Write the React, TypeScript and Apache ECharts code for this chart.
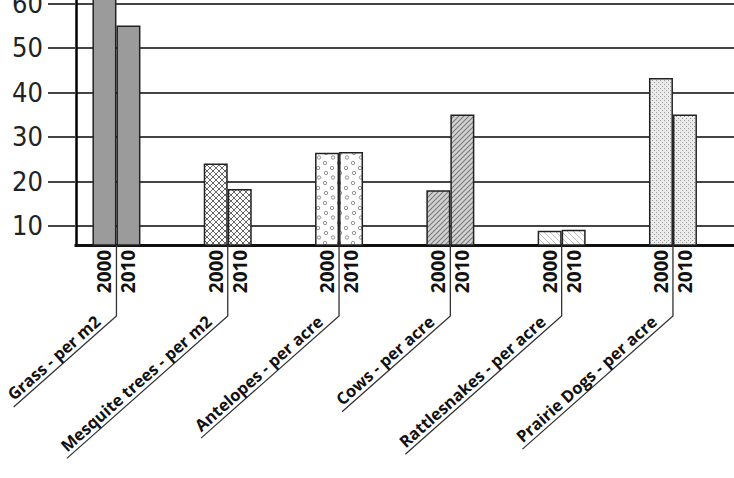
import React, { useEffect, useRef } from "react";
import * as echarts from "echarts";

const categories = [
  "Grass - per m2",
  "Mesquite trees - per m2",
  "Antelopes - per acre",
  "Cows - per acre",
  "Rattlesnakes - per acre",
  "Prairie Dogs - per acre",
];
const years = ["2000", "2010"];
const values2000 = [65, 24, 26.4, 18, 8.9, 43.2];
const values2010 = [55, 18.3, 26.6, 35, 9.1, 35];
const yTicks = [10, 20, 30, 40, 50, 60];
const Y_MIN = 5.7;
const Y_MAX = 70;

const CAT_FONT = "bold 16.5px 'Open Sans'";

function makeCanvas(w: number, h: number, draw: (ctx: CanvasRenderingContext2D) => void) {
  const c = document.createElement("canvas");
  c.width = w;
  c.height = h;
  const ctx = c.getContext("2d")!;
  draw(ctx);
  return c;
}

function buildFills(): any[] {
  const mesh = makeCanvas(6, 6, (ctx) => {
    ctx.fillStyle = "#ffffff";
    ctx.fillRect(0, 0, 6, 6);
    ctx.strokeStyle = "#555";
    ctx.lineWidth = 0.9;
    ctx.beginPath();
    ctx.moveTo(0, 0); ctx.lineTo(6, 6);
    ctx.moveTo(6, 0); ctx.lineTo(0, 6);
    ctx.stroke();
  });
  const circles = makeCanvas(14, 20, (ctx) => {
    ctx.fillStyle = "#ffffff";
    ctx.fillRect(0, 0, 14, 20);
    ctx.strokeStyle = "#888";
    ctx.lineWidth = 0.9;
    [[3, 3], [10, 8], [4, 13], [11, 17.5]].forEach(([x, y]) => {
      ctx.beginPath();
      ctx.arc(x, y, 1.7, 0, Math.PI * 2);
      ctx.stroke();
    });
  });
  const slash = makeCanvas(5, 5, (ctx) => {
    ctx.fillStyle = "#d2d2d2";
    ctx.fillRect(0, 0, 5, 5);
    ctx.strokeStyle = "#7a7a7a";
    ctx.lineWidth = 1.1;
    ctx.beginPath();
    ctx.moveTo(-1, 6); ctx.lineTo(6, -1);
    ctx.moveTo(-1, 1); ctx.lineTo(1, -1);
    ctx.moveTo(4, 6); ctx.lineTo(6, 4);
    ctx.stroke();
  });
  const back = makeCanvas(6, 6, (ctx) => {
    ctx.fillStyle = "#ffffff";
    ctx.fillRect(0, 0, 6, 6);
    ctx.strokeStyle = "#bdbdbd";
    ctx.lineWidth = 1;
    ctx.beginPath();
    ctx.moveTo(-1, -1); ctx.lineTo(7, 7);
    ctx.moveTo(5, -1); ctx.lineTo(7, 1);
    ctx.moveTo(-1, 5); ctx.lineTo(1, 7);
    ctx.stroke();
  });
  const dots = makeCanvas(4, 4, (ctx) => {
    ctx.fillStyle = "#ebebeb";
    ctx.fillRect(0, 0, 4, 4);
    ctx.fillStyle = "#9a9a9a";
    ctx.fillRect(0, 0, 1, 1);
    ctx.fillRect(2, 2, 1, 1);
  });
  return [
    "#9b9b9b",
    { image: mesh, repeat: "repeat" },
    { image: circles, repeat: "repeat" },
    { image: slash, repeat: "repeat" },
    { image: back, repeat: "repeat" },
    { image: dots, repeat: "repeat" },
  ];
}

let measureCtx: CanvasRenderingContext2D | null = null;
function measure(text: string) {
  if (!measureCtx) measureCtx = document.createElement("canvas").getContext("2d");
  measureCtx!.font = CAT_FONT;
  return measureCtx!.measureText(text).width;
}

export default function App() {
  const ref = useRef<HTMLDivElement>(null);
  useEffect(() => {
    const chart = echarts.init(ref.current!, null, { renderer: "svg" });
    const fills = buildFills();
    const yearLabel = (txt: string) => ({
      show: true,
      position: "bottom",
      distance: 4,
      rotate: 90,
      align: "right",
      verticalAlign: "middle",
      formatter: txt,
      fontFamily: "'Open Sans', sans-serif",
      fontWeight: "bold",
      fontSize: 19,
      color: "#111",
    });
    const barSeries = [values2000, values2010].map((vals, k) => ({
      type: "bar",
      name: years[k],
      barWidth: 24,
      barGap: "0%",
      z: 3,
      data: vals.map((v, i) => ({ value: v, itemStyle: { color: fills[i] } })),
      itemStyle: { borderColor: "#222", borderWidth: 1.5 },
      label: yearLabel(years[k]),
    }));
    const th = (41.5 * Math.PI) / 180;
    const cs = Math.cos(th);
    const sn = Math.sin(th);
    const leader = {
      type: "custom",
      clip: false,
      z: 4,
      silent: true,
      data: categories.map((_, i) => [i, Y_MIN]),
      encode: { x: 0, y: 1 },
      renderItem: (params: any, api: any) => {
        const i = params.dataIndex;
        const p = api.coord([api.value(0), api.value(1)]);
        const x0 = p[0];
        const y0 = p[1];
        const cy = y0 + 71;
        const tw = measure(categories[i]);
        const dEnd = 16;
        const L = dEnd + tw + 4;
        const ex = x0 - L * cs;
        const ey = cy + L * sn;
        const g = 2;
        const ax = x0 - dEnd * cs - g * sn;
        const ay = cy + dEnd * sn - g * cs;
        return {
          type: "group",
          children: [
            {
              type: "polyline",
              shape: { points: [[x0, y0], [x0, cy], [ex, ey]] },
              style: { stroke: "#333", lineWidth: 1.3, fill: null },
            },
            {
              type: "text",
              x: ax,
              y: ay,
              rotation: th,
              style: {
                text: categories[i],
                font: CAT_FONT,
                fill: "#111",
                align: "right",
                verticalAlign: "bottom",
              },
            },
          ],
        };
      },
    };
    chart.setOption({
      animation: false,
      backgroundColor: "#ffffff",
      grid: { left: 60.8, top: 18.8, height: 286.2, width: 7 * 111.3 },
      xAxis: {
        type: "category",
        data: [...categories, ""],
        axisLine: { show: true, onZero: false, lineStyle: { color: "#111", width: 3 } },
        axisTick: { show: false },
        axisLabel: { show: false },
        splitLine: { show: false },
      },
      yAxis: {
        type: "value",
        min: Y_MIN,
        max: Y_MAX,
        offset: -15.2,
        axisLine: { show: true, lineStyle: { color: "#000", width: 2.5 } },
        axisTick: { show: true, customValues: yTicks, length: 28, lineStyle: { color: "#444", width: 2 } },
        axisLabel: {
          customValues: yTicks,
          margin: 33,
          fontFamily: "'Liberation Sans Narrow', 'DejaVu Sans Condensed', sans-serif",
          fontSize: 27,
          color: "#222",
        },
        splitLine: { show: true, lineStyle: { color: "#444", width: 2 } },
      },
      graphic: [
        {
          type: "rect",
          shape: { x: 48, y: 301, width: 26.5, height: 8 },
          style: { fill: "#ffffff" },
          z: 100,
        },
      ],
      series: [...barSeries, leader],
    });
    return () => chart.dispose();
  }, []);
  return (
    <div
      style={{
        position: "fixed",
        left: 0,
        top: 0,
        width: 734,
        height: 478,
        overflow: "hidden",
        background: "#fff",
      }}
    >
      <div ref={ref} style={{ position: "absolute", left: 0, top: -60, width: 900, height: 560 }} />
    </div>
  );
}
